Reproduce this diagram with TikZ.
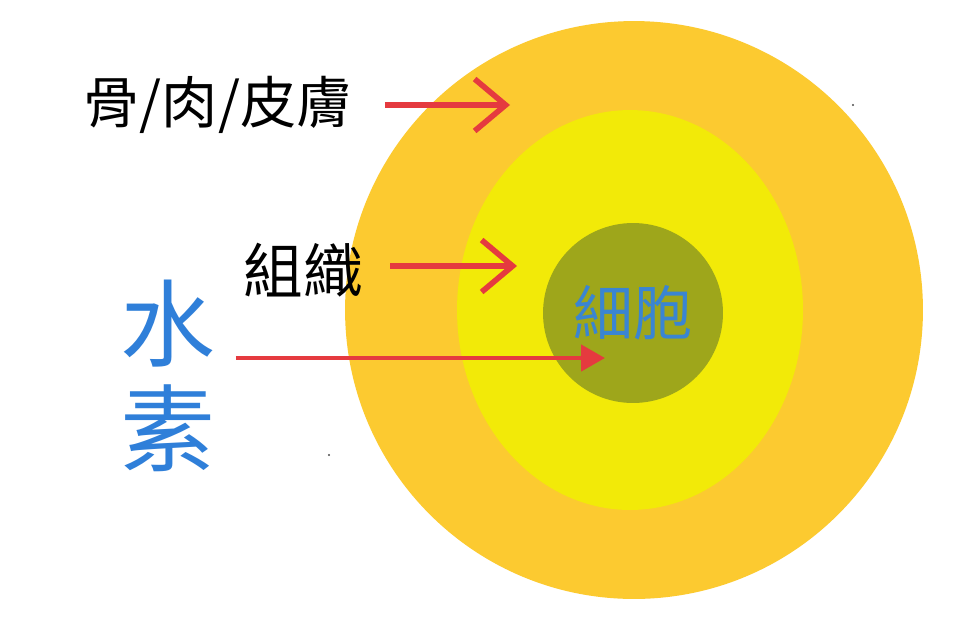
\documentclass[tikz,border=0pt]{standalone}
\usepackage{fontspec}
\newfontfamily\cjk{Noto Sans CJK TC}
\usepackage{tikz}
\usetikzlibrary{shapes.geometric, positioning, calc}
\usetikzlibrary{arrows.meta}
\usepackage{xcolor}
\definecolor{skinorange}{HTML}{FCCA30}
\definecolor{tissueyellow}{HTML}{F2EA08}
\definecolor{cellolive}{HTML}{9EA61B}
\definecolor{textblue}{HTML}{3A85D2}
\definecolor{waterblue}{HTML}{2F7FD9}
\definecolor{arrowred}{HTML}{E53A3F}

\begin{document}
\begin{tikzpicture}[
                x=0.02cm, y=-0.02cm,
                layer/.style={draw=none, inner sep=0pt},
                label/.style={inner sep=0pt, font=\cjk\fontsize{32}{38}\selectfont, text=black},
                barbline/.style={draw=arrowred, line width=3.2pt, -{Straight Barb[length=0.62cm, width=1.04cm]}},
                fillline/.style={draw=arrowred, line width=2.6pt, -{Triangle[length=0.48cm, width=0.52cm]}}
            ]
                \useasboundingbox (0,0) rectangle (969,640);
                \fill[white] (0,0) rectangle (969,640);

                % the three layers
                \node[layer, circle, fill=skinorange, minimum size=11.56cm] (skin) at (634,310) {};
                \node[layer, ellipse, fill=tissueyellow, minimum width=6.92cm, minimum height=8cm] (tissue) at (630,310) {};
                \node[layer, circle, fill=cellolive, minimum size=3.6cm, text=textblue, font=\cjk\fontsize{34}{40}\selectfont] (cell) at (633,313) {細胞};

                % labels on the left
                \node[label] (skinlbl) at (218,105) {骨/肉/皮膚};
                \node[label, font=\cjk\fontsize{34}{40}\selectfont] (tissuelbl) at (303,270) {組織};
                \node[label, text=waterblue, align=center, font=\cjk\fontsize{54}{60}\selectfont] (waterlbl) at (168,376) {水\\素};

                \coordinate (skintip) at (510,105);
                \coordinate (tissuetip) at (517,266);
                \coordinate (celltip) at (605,358);

                \path[barbline, shorten <=0.64cm] (skinlbl.east |- skintip) -- (skintip);
                \path[barbline, shorten <=0.54cm] (tissuelbl.east |- tissuetip) -- (tissuetip);
                \path[fillline, shorten <=0.4cm] (waterlbl.east |- celltip) -- (celltip);

                % specks
                \fill[black!70] (853,105) circle (1.2);
                \fill[black!70] (329,455) circle (1.2);
            \end{tikzpicture}
\end{document}
